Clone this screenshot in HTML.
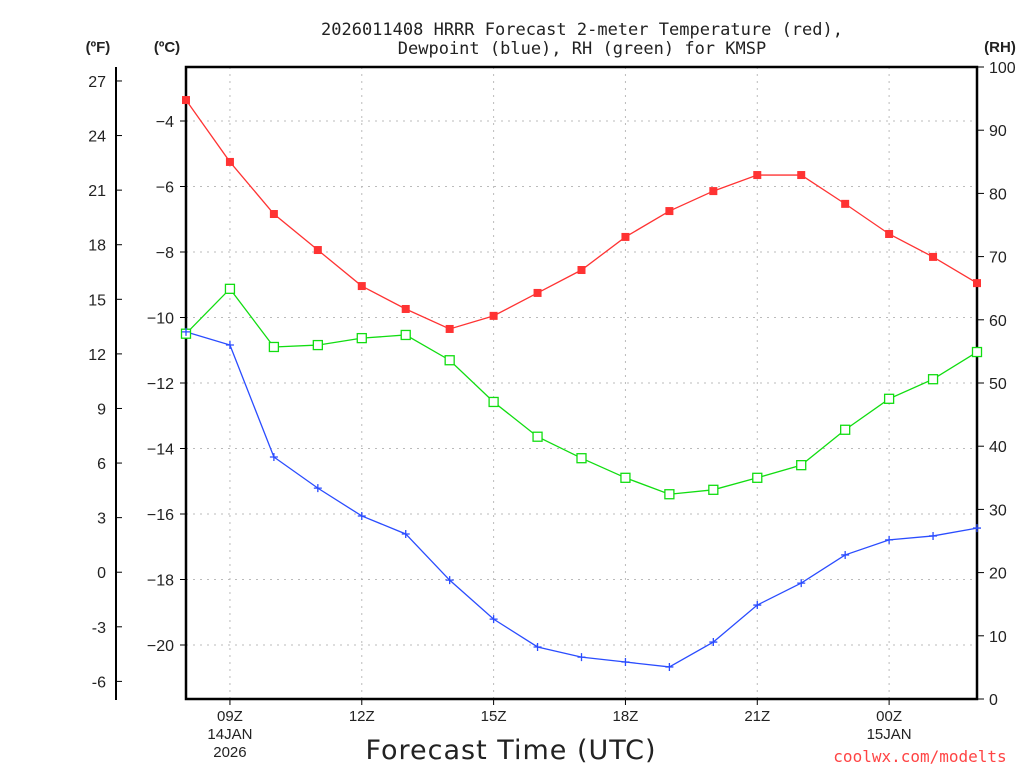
<!DOCTYPE html>
<html><head><meta charset="utf-8"><style>
body{margin:0;background:#fff;}
svg text{font-family:"Liberation Sans",sans-serif;fill:#222;}
</style></head><body>
<svg id="chart" width="1024" height="768" xmlns="http://www.w3.org/2000/svg">
<g id="grid"></g>
<g id="axes"></g>
<g id="series"></g>
<text x="582" y="35" text-anchor="middle" font-size="17" style="font-family:'DejaVu Sans Mono','Liberation Mono',monospace">2026011408 HRRR Forecast 2-meter Temperature (red),</text>
<text x="582" y="54" text-anchor="middle" font-size="17" style="font-family:'DejaVu Sans Mono','Liberation Mono',monospace">Dewpoint (blue), RH (green) for KMSP</text>
<text x="98" y="52" text-anchor="middle" font-size="15" font-weight="bold">(ºF)</text>
<text x="167" y="52" text-anchor="middle" font-size="15" font-weight="bold">(ºC)</text>
<text x="1000" y="52" text-anchor="middle" font-size="15" font-weight="bold">(RH)</text>
<text x="511" y="759" text-anchor="middle" font-size="27" style="font-family:'DejaVu Sans','Liberation Sans',sans-serif;letter-spacing:1px">Forecast Time (UTC)</text>
<text x="920" y="762" text-anchor="middle" font-size="16" style="fill:#f44;font-family:'DejaVu Sans Mono','Liberation Mono',monospace">coolwx.com/modelts</text>
</svg>
<script>
const hours=[8,9,10,11,12,13,14,15,16,17,18,19,20,21,22,23,24,25,26];
const tempC=[-3.36,-5.25,-6.84,-7.94,-9.04,-9.74,-10.35,-9.95,-9.25,-8.55,-7.54,-6.75,-6.14,-5.65,-5.65,-6.53,-7.45,-8.15,-8.95];
const dewC=[-10.44,-10.84,-14.26,-15.21,-16.06,-16.61,-18.02,-19.21,-20.06,-20.37,-20.52,-20.67,-19.91,-18.78,-18.11,-17.25,-16.79,-16.67,-16.43];
const rh=[57.8,64.9,55.7,56.0,57.1,57.6,53.6,47.0,41.5,38.1,35.0,32.4,33.1,35.0,37.0,42.6,47.5,50.6,54.9];
const cTicks=[-4,-6,-8,-10,-12,-14,-16,-18,-20];
const fTicks=[27,24,21,18,15,12,9,6,3,0,-3,-6];
const rhTicks=[0,10,20,30,40,50,60,70,80,90,100];
const xTickHours=[9,12,15,18,21,24];
const xTickLabels=["09Z","12Z","15Z","18Z","21Z","00Z"];
const xTickSub=[["14JAN","2026"],[],[],[],[],["15JAN"]];

const L=186,R=977,T=67,B=699;
const X=h=>L+(h-8)*(R-L)/18;
const YC=c=>121+(-4-c)*32.75;
const YF=f=>YC((f-32)*5/9);
const YR=r=>B-r*(B-T)/100;
const NS="http://www.w3.org/2000/svg";
function mk(parent,tag,attrs){const e=document.createElementNS(NS,tag);for(const k in attrs)e.setAttribute(k,attrs[k]);document.getElementById(parent).appendChild(e);return e;}

xTickHours.forEach((h,i)=>{const g=mk('grid','line',{x1:X(h),x2:X(h),y1:T,y2:B,stroke:'#bbb','stroke-dasharray':'2,5'});


const t=mk('axes','line',{x1:X(h),x2:X(h),y1:B,y2:B+6,stroke:'#000'});


const lb=mk('axes','text',{x:X(h),y:B+22,'text-anchor':'middle','font-size':15});lb.textContent=xTickLabels[i];


xTickSub[i].forEach((s,j)=>{const sl=mk('axes','text',{x:X(h),y:B+40+j*18,'text-anchor':'middle','font-size':15});sl.textContent=s;

});});
cTicks.forEach(c=>{const g=mk('grid','line',{x1:L,x2:R,y1:YC(c),y2:YC(c),stroke:'#bbb','stroke-dasharray':'2,5'});


const t=mk('axes','line',{x1:L-6,x2:L,y1:YC(c),y2:YC(c),stroke:'#000'});


const lb=mk('axes','text',{x:L-12,y:YC(c)+6,'text-anchor':'end','font-size':16});lb.textContent=c<0?'\u2212'+(-c):c;

});
fTicks.forEach(f=>{const t=mk('axes','line',{x1:116,x2:122,y1:YF(f),y2:YF(f),stroke:'#000'});


const lb=mk('axes','text',{x:106,y:YF(f)+6,'text-anchor':'end','font-size':16});lb.textContent=f;

});
rhTicks.forEach(r=>{const t=mk('axes','line',{x1:R,x2:R+7,y1:YR(r),y2:YR(r),stroke:'#000'});


const lb=mk('axes','text',{x:R+12,y:YR(r)+6,'font-size':16});lb.textContent=r;

});
const fa=mk('axes','line',{x1:116,x2:116,y1:67,y2:700,stroke:'#000','stroke-width':2});


const fr=mk('axes','rect',{x:L,y:T,width:R-L,height:B-T,fill:'none',stroke:'#000','stroke-width':2.5});



function line(vals,yf,col,name){const pts=vals.map((v,i)=>X(hours[i])+','+yf(v)).join(' ');
const p=mk('series','polyline',{points:pts,fill:'none',stroke:col,'stroke-width':1.3});

}
line(tempC,YC,'#f33','temperature');
line(dewC,YC,'#2a4cff','dewpoint');
line(rh,YR,'#1d1','rh');
tempC.forEach((v,i)=>{const m=mk('series','rect',{x:X(hours[i])-4,y:YC(v)-4,width:8,height:8,fill:'#f33'});

});
rh.forEach((v,i)=>{const m=mk('series','rect',{x:X(hours[i])-4.5,y:YR(v)-4.5,width:9,height:9,fill:'#fff',stroke:'#1d1','stroke-width':1.3});

});
dewC.forEach((v,i)=>{const x=X(hours[i]),y=YC(v);const m=mk('series','path',{d:`M${x-4},${y}H${x+4}M${x},${y-4}V${y+4}`,stroke:'#2a4cff','stroke-width':1.3});

});
</script>
</body></html>
